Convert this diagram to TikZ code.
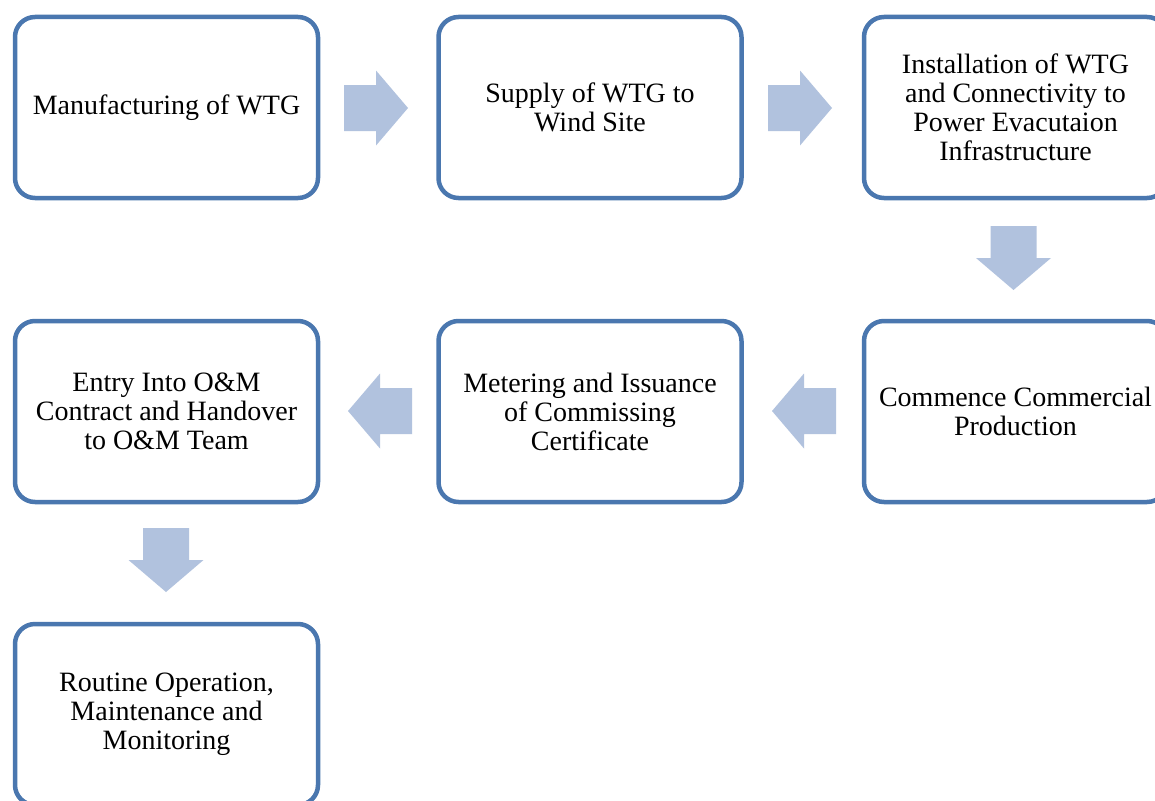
\documentclass[tikz,border=0pt]{standalone}
\usepackage{fontspec}
\setmainfont{Liberation Serif}
\usetikzlibrary{calc}
\definecolor{boxc}{HTML}{4A77AF}
\definecolor{arrc}{HTML}{B1C2DE}
\begin{document}
\begin{tikzpicture}[x=1pt,y=-1pt,
  stepbox/.style={draw=boxc, line width=4.5pt, rounded corners=20pt,
    minimum width=303pt, minimum height=181pt, align=center,
    font=\fontsize{28}{29}\selectfont, fill=white, inner sep=0pt},
  blk/.pic={\fill[arrc] (-32,-23) -- (0,-23) -- (0,-37.5) -- (32,0) -- (0,37.5) -- (0,23) -- (-32,23) -- cycle;}]
\useasboundingbox (0,0) rectangle (1155,800);
\clip (0,0) rectangle (1155,800);
\fill[white] (0,0) rectangle (1155,800);
\node[stepbox] (b1) at (166.5,107.5) {Manufacturing of WTG};
\node[stepbox] (b2) at (590,107.5) {Supply of WTG to\\Wind Site};
\node[stepbox] (b3) at (1015.5,107.5) {Installation of WTG\\and Connectivity to\\Power Evacutaion\\Infrastructure};
\node[stepbox] (b4) at (1015.5,411.5) {Commence Commercial\\Production};
\node[stepbox] (b5) at (590,411.5) {Metering and Issuance\\of Commissing\\Certificate};
\node[stepbox] (b6) at (166.5,411.5) {Entry Into O\&M\\Contract and Handover\\to O\&M Team};
\node[stepbox] (b7) at (166.5,714.5) {Routine Operation,\\Maintenance and\\Monitoring};
\pic at (376,108) {blk};
\pic at (800,108) {blk};
\pic[rotate=-90] at (1013.5,258) {blk};
\pic[rotate=180] at (804,411) {blk};
\pic[rotate=180] at (380,411) {blk};
\pic[rotate=-90] at (166,560) {blk};
\end{tikzpicture}
\end{document}
